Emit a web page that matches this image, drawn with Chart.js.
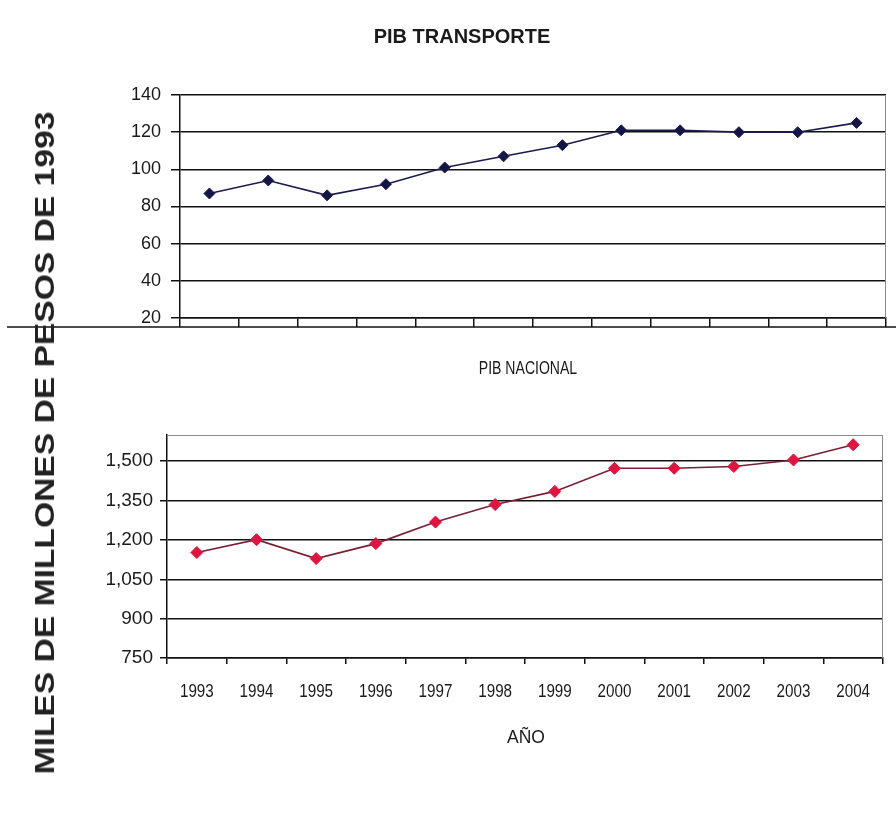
<!DOCTYPE html>
<html>
<head>
<meta charset="utf-8">
<script src="https://cdn.jsdelivr.net/npm/chart.js@4/dist/chart.umd.min.js"></script>
<style>
  html, body { margin: 0; padding: 0; background: #fff; }
  #page { position: relative; width: 896px; height: 834px; overflow: hidden;
          font-family: Arial, 'Liberation Sans', sans-serif; color: #1a1a1a; }
  canvas { position: absolute; left: 0; }
  #cTop { top: 0; }
  #cBot { top: 330px; }
  .lbl { position: absolute; white-space: nowrap; transform: translate(-50%, -50%); }
  #t1 { left: 462px; top: 36px; font-weight: bold; font-size: 20px; }
  #t2 { left: 528px; top: 368px; font-size: 18px; transform: translate(-50%, -50%) scaleX(0.78); }
  #xt { left: 526px; top: 737px; font-size: 19px; transform: translate(-50%, -50%) scaleX(0.92); }
  #yt { left: 45px; top: 443px; font-size: 28px; font-weight: bold; color: #222;
        transform: translate(-50%, -50%) rotate(-90deg) scaleX(1.2); }
</style>
</head>
<body>
<div id="page">
  <canvas id="cTop" width="896" height="340"></canvas>
  <canvas id="cBot" width="896" height="504"></canvas>
  <div class="lbl" id="t1">PIB TRANSPORTE</div>
  <div class="lbl" id="t2">PIB NACIONAL</div>
  <div class="lbl" id="xt">AÑO</div>
  <div class="lbl" id="yt">MILES DE MILLONES DE PESOS DE 1993</div>
</div>
<script>
// Years on the horizontal axis
const years = ['1993', '1994', '1995', '1996', '1997', '1998', '1999', '2000', '2001', '2002', '2003', '2004'];

// GDP of the transport sector (thousands of millions of 1993 pesos)
const pibTransporte = [87, 94, 86, 92, 101, 107, 113, 121, 121, 120, 120, 125];

// National GDP (thousands of millions of 1993 pesos)
const pibNacional = [1152, 1201, 1129, 1186, 1268, 1335, 1385, 1473, 1473, 1480, 1505, 1563];

// Value-axis tick labels for each panel
const transporteTicks = [20, 40, 60, 80, 100, 120, 140];
const nacionalTicks = [750, 900, 1050, 1200, 1350, 1500];

const SANS = 'Arial, "Liberation Sans", sans-serif';
Chart.defaults.font.family = SANS;
Chart.defaults.color = '#1a1a1a';

const INK = '#111111';

// Thin grey frame on the top/right edges of the plot area
const framePlugin = {
  id: 'plotFrame',
  afterDraw(chart, args, opts) {
    const { ctx, chartArea: a } = chart;
    ctx.save();
    ctx.strokeStyle = '#8a8a8a';
    ctx.lineWidth = 1;
    ctx.beginPath();
    if (opts.top) { ctx.moveTo(a.left, a.top + 0.5); ctx.lineTo(a.right, a.top + 0.5); }
    ctx.moveTo(a.right - 0.5, a.top); ctx.lineTo(a.right - 0.5, a.bottom);
    ctx.stroke();
    ctx.restore();
  }
};

// Long rule separating the two panels
const rulePlugin = {
  id: 'panelRule',
  afterDraw(chart, args, opts) {
    if (!opts.enabled) return;
    const { ctx } = chart;
    ctx.save();
    ctx.strokeStyle = INK;
    ctx.lineWidth = 1.5;
    ctx.beginPath();
    ctx.moveTo(opts.x0, opts.y);
    ctx.lineTo(opts.x1, opts.y);
    ctx.stroke();
    ctx.restore();
  }
};

// Condensed year labels centred under each category of the x scale
const narrowLabels = {
  id: 'narrowLabels',
  afterDraw(chart, args, opts) {
    if (!opts.enabled) return;
    const scale = chart.scales.x;
    const ctx = chart.ctx;
    const y = chart.chartArea.bottom + opts.offset;
    ctx.save();
    ctx.font = opts.size + 'px ' + SANS;
    ctx.fillStyle = '#1a1a1a';
    ctx.textAlign = 'center';
    ctx.textBaseline = 'middle';
    chart.data.labels.forEach((lab, i) => {
      ctx.save();
      ctx.translate(scale.getPixelForValue(i), y);
      ctx.scale(opts.squeeze, 1);
      ctx.fillText(lab, 0, 0);
      ctx.restore();
    });
    ctx.restore();
  }
};

function fixedTicks(list) {
  return scale => { scale.ticks = list.map(v => ({ value: v })); };
}

// Upper panel: transport GDP
new Chart(document.getElementById('cTop'), {
  type: 'line',
  data: {
    labels: years,
    datasets: [{
      data: pibTransporte,
      borderColor: '#1c1c4c',
      backgroundColor: '#141446',
      borderWidth: 1.6,
      pointStyle: 'rectRot',
      pointRadius: 5.5,
      pointBorderWidth: 1,
      tension: 0,
      fill: false
    }]
  },
  options: {
    responsive: false,
    animation: false,
    devicePixelRatio: 1,
    layout: { padding: { top: 95, right: 10, left: 0, bottom: 0 } },
    plugins: {
      legend: { display: false },
      tooltip: { enabled: false },
      plotFrame: { top: false },
      panelRule: { enabled: true, x0: 7, x1: 896, y: 327 },
      narrowLabels: { enabled: false }
    },
    scales: {
      x: {
        offset: true,
        grid: { offset: true, drawOnChartArea: false, drawTicks: true, tickLength: 9, color: INK, lineWidth: 1.5 },
        border: { color: INK, width: 1.5 },
        ticks: { display: false },
        afterFit: s => { s.height = 22; }
      },
      y: {
        min: 20, max: 140,
        afterBuildTicks: fixedTicks(transporteTicks),
        grid: { color: INK, lineWidth: 1.5, tickLength: 9 },
        border: { color: INK, width: 1.5 },
        ticks: { padding: 10, font: { size: 18 }, color: '#1a1a1a' },
        afterFit: s => { s.width = 180; }
      }
    }
  },
  plugins: [framePlugin, rulePlugin, narrowLabels]
});

// Lower panel: national GDP
new Chart(document.getElementById('cBot'), {
  type: 'line',
  data: {
    labels: years,
    datasets: [{
      data: pibNacional,
      borderColor: '#7a1f33',
      backgroundColor: '#e3123f',
      pointBorderColor: '#d81038',
      borderWidth: 1.6,
      pointStyle: 'rectRot',
      pointRadius: 6,
      pointBorderWidth: 1,
      tension: 0,
      fill: false
    }]
  },
  options: {
    responsive: false,
    animation: false,
    devicePixelRatio: 1,
    layout: { padding: { top: 105, right: 13, left: 0, bottom: 0 } },
    plugins: {
      legend: { display: false },
      tooltip: { enabled: false },
      plotFrame: { top: true },
      panelRule: { enabled: false },
      narrowLabels: { enabled: true, size: 19, squeeze: 0.8, offset: 34 }
    },
    scales: {
      x: {
        offset: true,
        grid: { offset: true, drawOnChartArea: false, drawTicks: true, tickLength: 6, color: INK, lineWidth: 1.5 },
        border: { color: INK, width: 1.5 },
        ticks: { display: false },
        afterFit: s => { s.height = 176; }
      },
      y: {
        min: 750, max: 1600,
        afterBuildTicks: fixedTicks(nacionalTicks),
        grid: { color: INK, lineWidth: 1.5, tickLength: 7 },
        border: { color: INK, width: 1.5 },
        ticks: {
          padding: 7, font: { size: 19 }, color: '#1a1a1a',
          callback: v => Number(v).toLocaleString('en-US')
        },
        afterFit: s => { s.width = 167; }
      }
    }
  },
  plugins: [framePlugin, rulePlugin, narrowLabels]
});
</script>
</body>
</html>
